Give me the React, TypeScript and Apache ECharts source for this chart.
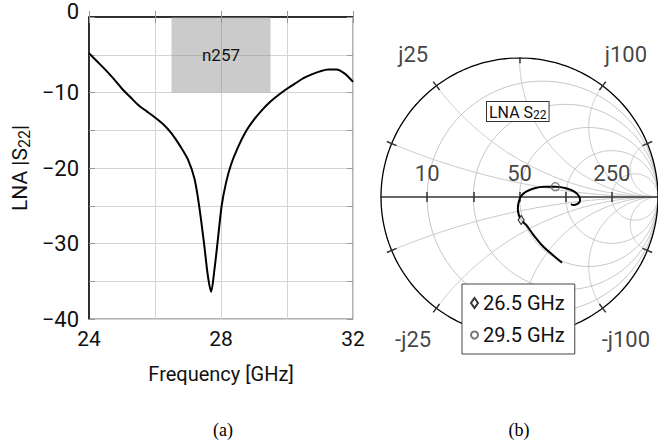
import React, { useEffect, useRef } from 'react';
import * as echarts from 'echarts';

// ---------- Data: (a) LNA |S22| vs frequency ----------
const freqGHz = [24, 24.25, 24.5, 24.75, 25, 25.25, 25.5, 25.75, 26, 26.25, 26.5, 26.75, 27, 27.2, 27.35, 27.5, 27.6, 27.7, 27.8, 27.9, 28.02, 28.15, 28.3, 28.5, 28.75, 29, 29.25, 29.5, 29.75, 30, 30.25, 30.5, 30.75, 31, 31.25, 31.5, 31.75, 32];
const s22dB = [-4.8, -5.9, -7.0, -8.2, -9.5, -10.6, -11.7, -12.5, -13.3, -14.2, -15.4, -17.0, -18.9, -21.5, -25.4, -30.5, -34.2, -36.4, -33.5, -29.7, -25.0, -22.0, -19.6, -17.4, -15.2, -13.6, -12.3, -11.2, -10.3, -9.5, -8.8, -8.1, -7.6, -7.2, -6.95, -6.95, -7.5, -8.6];
const bandName = 'n257';
const bandGHz = [26.5, 29.5];
const bandDB = [-10, 0];
const xLabelValues = [24, 28, 32];
const yLabelValues = [0, -10, -20, -30, -40];

// ---------- Data: (b) Smith chart of S22 (reflection coefficient) ----------
const gammaRe = [0.307, 0.240, 0.173, 0.120, 0.084, 0.048, 0.012, -0.005, -0.012, -0.005, 0.012, 0.048, 0.108, 0.180, 0.259, 0.336, 0.396, 0.432, 0.437, 0.419, 0.388, 0.372];
const gammaIm = [-0.473, -0.417, -0.358, -0.297, -0.250, -0.201, -0.165, -0.129, -0.081, -0.034, 0.007, 0.038, 0.063, 0.074, 0.074, 0.063, 0.038, 0.002, -0.027, -0.050, -0.058, -0.050];
const markerNames = ['26.5 GHz', '29.5 GHz'];
const markerIndex = [6, 14];
const Z0 = 50;
const resistanceGrid = [0.2, 0.5, 1, 2, 5];
const reactanceGrid = [0.2, 0.5, 1, 2, 5];
const resistanceLabelsOhm = [10, 50, 250];
const reactanceLabelsOhm = [25, 100, -25, -100];

const FONT = "Roboto, 'DejaVu Sans Condensed', sans-serif";
const INK = '#111';

function gamma(r: number, x: number): [number, number] {
  const den = (r + 1) * (r + 1) + x * x;
  return [(r * r + x * x - 1) / den, (2 * x) / den];
}

function resistanceCircle(r: number): number[][] {
  const c = r / (r + 1);
  const R = 1 / (r + 1);
  const pts: number[][] = [];
  for (let i = 0; i <= 240; i++) {
    const t = (i / 240) * Math.PI * 2;
    pts.push([c + R * Math.cos(t), R * Math.sin(t)]);
  }
  return pts;
}

function reactanceArc(x: number): number[][] {
  const pts: number[][] = [];
  for (let i = 0; i < 300; i++) {
    const t = i / 300;
    const r = Math.pow(t / (1 - t), 1.5);
    pts.push(gamma(r, x));
  }
  pts.push([1, 0]);
  return pts;
}

export default function App() {
  const ref = useRef<HTMLDivElement>(null);
  useEffect(() => {
    if (!ref.current) return;
    const chart = echarts.init(ref.current, undefined, { renderer: 'svg' });

    const gridArcs: any[] = [];
    resistanceGrid.forEach((r) => gridArcs.push({ coords: resistanceCircle(r) }));
    reactanceGrid.forEach((x) => {
      gridArcs.push({ coords: reactanceArc(x) });
      gridArcs.push({ coords: reactanceArc(-x) });
    });

    const outer = resistanceCircle(0);

    const tickSegs: any[] = [];
    tickSegs.push({ coords: [[-1.055, 0], [1.06, 0]] });
    resistanceGrid.forEach((r) => {
      const g = (r - 1) / (r + 1);
      tickSegs.push({ coords: [[g, -0.036], [g, 0.036]] });
    });
    reactanceGrid.forEach((x) => {
      [x, -x].forEach((xx) => {
        const p = gamma(0, xx);
        tickSegs.push({ coords: [[p[0] * 0.962, p[1] * 0.962], [p[0] * 1.038, p[1] * 1.038]] });
      });
    });

    const smithLabels: any[] = [];
    resistanceLabelsOhm.forEach((ohm) => {
      const g = gamma(ohm / Z0, 0);
      smithLabels.push({ name: String(ohm), value: [g[0], 0], label: { offset: [0, -24] } });
    });
    reactanceLabelsOhm.forEach((ohm) => {
      const p = gamma(0, ohm / Z0);
      smithLabels.push({
        name: (ohm < 0 ? '-j' : 'j') + Math.abs(ohm),
        value: [p[0] * 1.28, p[1] * 1.28],
      });
    });

    const smithCurve = gammaRe.map((v, i) => [v, gammaIm[i]]);

    const option: any = {
      animation: false,
      backgroundColor: '#fff',
      textStyle: { fontFamily: FONT },
      grid: [
        { left: 89, top: 17, width: 264, height: 302, show: true, borderColor: '#666', borderWidth: 1, backgroundColor: 'transparent' },
        { left: 381, top: 58, width: 278, height: 278, show: false },
      ],
      xAxis: [
        {
          gridIndex: 0, type: 'value', min: 24, max: 32, interval: 2,
          name: 'Frequency [GHz]', nameLocation: 'middle', nameGap: 45,
          nameTextStyle: { fontSize: 20, fontFamily: FONT, color: INK },
          axisLine: { lineStyle: { color: '#000', width: 1.5 } },
          axisTick: { inside: true, length: 6, lineStyle: { color: '#999' } },
          splitLine: { lineStyle: { color: '#d4d4d4', width: 1 } },
          axisLabel: {
            margin: 9, fontSize: 21, fontFamily: FONT, color: INK,
            formatter: (v: number) => (xLabelValues.indexOf(v) >= 0 ? String(v) : ''),
          },
        },
        {
          gridIndex: 0, type: 'value', min: 24, max: 32, interval: 2, position: 'top',
          axisLine: { show: false }, axisLabel: { show: false }, splitLine: { show: false },
          axisTick: { inside: true, length: 6, lineStyle: { color: '#999' } },
        },
        { gridIndex: 1, type: 'value', min: -1, max: 1, show: false },
      ],
      yAxis: [
        {
          gridIndex: 0, type: 'value', min: -40, max: 0, interval: 5,
          name: 'LNA |S{sub|22}|', nameLocation: 'middle', nameGap: 57,
          nameTextStyle: {
            fontSize: 21, fontFamily: FONT, color: INK,
            rich: { sub: { fontSize: 16, fontFamily: FONT, color: INK, padding: [8, 0, 0, 0] } },
          },
          axisLine: { show: true, lineStyle: { color: '#000', width: 1.5 } },
          axisTick: { show: true, inside: true, length: 6, lineStyle: { color: '#999' } },
          splitLine: { lineStyle: { color: '#d4d4d4', width: 1 } },
          axisLabel: {
            margin: 10, fontSize: 22, fontFamily: FONT, color: INK,
            formatter: (v: number) => {
              if (yLabelValues.indexOf(v) < 0) return '';
              if (v === 0) return '{z|0}';
              return '\u2212' + Math.abs(v);
            },
            rich: { z: { fontSize: 22, fontFamily: FONT, color: INK, padding: [0, 0, 12, 0] } },
          },
        },
        {
          gridIndex: 0, type: 'value', min: -40, max: 0, interval: 5, position: 'right',
          axisLine: { show: false }, axisLabel: { show: false }, splitLine: { show: false },
          axisTick: { show: true, inside: true, length: 6, lineStyle: { color: '#999' } },
        },
        { gridIndex: 1, type: 'value', min: -1, max: 1, show: false },
      ],
      legend: {
        data: markerNames,
        orient: 'vertical',
        left: 462, top: 284,
        padding: [9, 10, 9, 8],
        itemGap: 12,
        itemWidth: 7, itemHeight: 10,
        backgroundColor: '#fff',
        borderColor: '#444', borderWidth: 1,
        textStyle: { fontSize: 20, fontFamily: FONT, color: INK },
        z: 20,
      },
      series: [
        {
          type: 'line', xAxisIndex: 0, yAxisIndex: 0,
          data: freqGHz.map((f, i) => [f, s22dB[i]]),
          showSymbol: false, smooth: 0.3,
          lineStyle: { color: '#000', width: 2 },
          z: 5,
          markArea: {
            silent: true,
            itemStyle: { color: 'rgba(140,140,140,0.45)' },
            label: { show: true, position: 'inside', fontSize: 17, fontFamily: FONT, color: INK },
            data: [[{ name: bandName, coord: [bandGHz[0], bandDB[1]] }, { coord: [bandGHz[1], bandDB[0]] }]],
          },
        },
        {
          type: 'lines', coordinateSystem: 'cartesian2d', xAxisIndex: 2, yAxisIndex: 2,
          polyline: true, silent: true,
          lineStyle: { color: '#c4c4c4', width: 1, opacity: 1 },
          data: gridArcs, z: 1,
        },
        {
          type: 'line', xAxisIndex: 2, yAxisIndex: 2, data: outer, showSymbol: false, silent: true,
          lineStyle: { color: '#000', width: 1.3 }, z: 2,
        },
        {
          type: 'lines', coordinateSystem: 'cartesian2d', xAxisIndex: 2, yAxisIndex: 2,
          silent: true, lineStyle: { color: '#333', width: 1.5, opacity: 1 },
          data: tickSegs, z: 3,
        },
        {
          type: 'line', xAxisIndex: 2, yAxisIndex: 2, data: smithCurve, showSymbol: false,
          smooth: 0.4, lineStyle: { color: '#000', width: 2 }, z: 6,
        },
        {
          type: 'scatter', name: markerNames[0], xAxisIndex: 2, yAxisIndex: 2,
          symbol: 'diamond', symbolSize: [6, 9],
          itemStyle: { color: '#fff', borderColor: '#000', borderWidth: 1.2 },
          data: [smithCurve[markerIndex[0]]], z: 8,
        },
        {
          type: 'scatter', name: markerNames[1], xAxisIndex: 2, yAxisIndex: 2,
          symbol: 'circle', symbolSize: 8,
          itemStyle: { color: 'rgba(255,255,255,0)', borderColor: '#555', borderWidth: 1.2 },
          data: [smithCurve[markerIndex[1]]], z: 8,
        },
        {
          type: 'scatter', xAxisIndex: 2, yAxisIndex: 2, symbolSize: 1, silent: true, clip: false,
          itemStyle: { color: 'rgba(0,0,0,0)' },
          label: { show: true, position: 'inside', formatter: '{b}', fontSize: 22, fontFamily: FONT, color: INK },
          data: smithLabels, z: 9,
        },
      ],
      graphic: [
        {
          type: 'text', x: 487, y: 102, z: 30,
          style: {
            text: 'LNA S{sub|22}',
            fontSize: 16, fontFamily: FONT, fill: INK,
            backgroundColor: '#fff', borderColor: '#333', borderWidth: 1, padding: [1, 2, 0, 2],
            rich: { sub: { fontSize: 12, fontFamily: FONT, fill: INK, padding: [6, 0, 0, 0] } },
          },
        },
        {
          type: 'text', x: 223, y: 430,
          style: { text: '(a)', fontSize: 18, fontFamily: "'Liberation Serif', 'DejaVu Serif', serif", fill: '#000', textAlign: 'center', textVerticalAlign: 'middle' },
        },
        {
          type: 'text', x: 519, y: 430,
          style: { text: '(b)', fontSize: 18, fontFamily: "'Liberation Serif', 'DejaVu Serif', serif", fill: '#000', textAlign: 'center', textVerticalAlign: 'middle' },
        },
      ],
    };
    chart.setOption(option);
    return () => chart.dispose();
  }, []);
  return <div ref={ref} style={{ position: 'absolute', left: 0, top: 0, width: 658, height: 443 }} />;
}
